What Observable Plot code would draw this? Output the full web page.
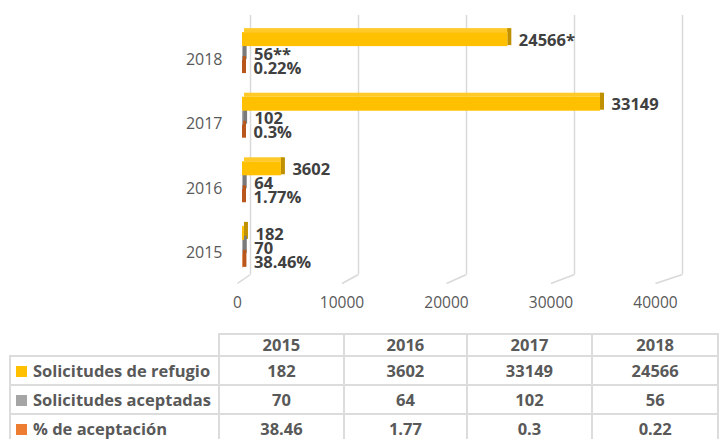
<!DOCTYPE html>
<html><head><meta charset="utf-8">
<script src="https://cdn.jsdelivr.net/npm/d3@7"></script>
<script src="https://cdn.jsdelivr.net/npm/@observablehq/plot@0.6"></script>
<style>
body{margin:0;background:#fff;font-family:'Open Sans',sans-serif;}
#wrap{position:relative;width:719px;height:439px;overflow:hidden;}
#tbl{position:absolute;left:9px;top:333px;border-collapse:collapse;table-layout:fixed;}
#tbl td{border:2px solid #dcdcdc;font-weight:700;color:#595959;font-size:16.5px;line-height:18px;text-align:center;padding:0;white-space:nowrap;overflow:hidden;}
#tbl tr.h td{height:20px;}
#tbl tr.r td{height:27px;}
#tbl td.lab{text-align:left;padding-left:5px;}
#tbl td.empty{border-top:none;border-left:none;}
.sw{display:inline-block;width:11px;height:11px;margin-right:6px;vertical-align:0px;}
</style></head>
<body><div id="wrap"><div id="chart"></div><table id="tbl"></table></div>
<script>
const years = ["2015", "2016", "2017", "2018"];
const series = ["Solicitudes de refugio", "Solicitudes aceptadas", "% de aceptación"];
const refugio = [182, 3602, 33149, 24566];
const aceptadas = [70, 64, 102, 56];
const porcentaje = [38.46, 1.77, 0.3, 0.22];
const refugioNote = ["", "", "", "*"];
const aceptadasNote = ["", "", "", "**"];
const xTicks = [0, 10000, 20000, 30000, 40000];

const frontColors = ["#FFC000", "#A5A5A5", "#ED7D31"];
const topColors = ["#FFCA28", "#B5B5B5", "#F08A45"];
const sideColors = ["#BF9000", "#7A7A7A", "#B9561B"];

const rows = years.flatMap((yr, i) => [
  {i, j: 0, v: refugio[i], label: refugio[i] + refugioNote[i]},
  {i, j: 1, v: aceptadas[i], label: aceptadas[i] + aceptadasNote[i]},
  {i, j: 2, v: porcentaje[i], label: porcentaje[i] + "%"}
]);

const slotW = 0.2165;
const slotMid = d => d.i + (1 - d.j) * slotW;
const slotTop = d => slotMid(d) + slotW / 2;
const slotBot = d => slotMid(d) - slotW / 2;
const yBottom = -0.42;
const floorX = d => d * 0.9676 - 1204;

const chart = Plot.plot({
  width: 719, height: 322,
  marginLeft: 242, marginRight: 45, marginTop: 15, marginBottom: 48,
  x: {domain: [0, 40000], axis: null},
  y: {domain: [yBottom, 3.59], axis: null},
  style: {fontFamily: "'Open Sans', sans-serif", background: "transparent"},
  marks: [
    Plot.ruleX(xTicks, {x: d => d, dx: 8, stroke: "#d9d9d9", strokeWidth: 1.5}),
    Plot.link(xTicks, {x1: d => d, x2: floorX, y1: yBottom, y2: yBottom - 9 / 64.67, dx: 8, stroke: "#d9d9d9", strokeWidth: 1.5}),
    Plot.text(xTicks, {x: floorX, y: yBottom, dx: 8, dy: 29, text: d => String(d), fill: "#595959", fontSize: 15.5}),
    Plot.text(years, {y: (d, i) => i, frameAnchor: "left", textAnchor: "end", dx: -20, dy: 6, text: d => d, fill: "#595959", fontSize: 16}),
    Plot.rectX(rows, {x1: 0, x2: d => d.v, y1: slotTop, y2: slotTop, insetTop: -4, dx: 2, fill: d => topColors[d.j]}),
    Plot.rectX(rows, {x1: d => d.v, x2: d => d.v, insetRight: -4, y1: slotTop, y2: slotBot, insetTop: -4, insetBottom: 1, fill: d => sideColors[d.j]}),
    Plot.rectX(rows, {x1: 0, x2: d => d.v, y1: slotTop, y2: slotBot, fill: d => frontColors[d.j]}),
    Plot.text(rows, {x: d => d.v, y: slotMid, dx: 11, dy: 1, text: d => d.label, textAnchor: "start", fontWeight: "bold", fontSize: 16.5, fill: "#404040"})
  ]
});
document.getElementById("chart").appendChild(chart);

// data table below the chart
const tbl = document.getElementById("tbl");
const colW = [209, 129, 126, 129, 129];
const cg = document.createElement("colgroup");
colW.forEach(cw => { const c = document.createElement("col"); c.style.width = cw + "px"; cg.appendChild(c); });
tbl.appendChild(cg);
const hr = document.createElement("tr"); hr.className = "h";
const e = document.createElement("td"); e.className = "empty"; hr.appendChild(e);
years.forEach(y => { const td = document.createElement("td"); td.textContent = y; hr.appendChild(td); });
tbl.appendChild(hr);
const tableVals = [refugio, aceptadas, porcentaje];
series.forEach((s, k) => {
  const tr = document.createElement("tr"); tr.className = "r";
  const td = document.createElement("td"); td.className = "lab";
  const sw = document.createElement("span"); sw.className = "sw"; sw.style.background = frontColors[k];
  td.appendChild(sw); td.appendChild(document.createTextNode(s)); tr.appendChild(td);
  tableVals[k].forEach(v => { const c = document.createElement("td"); c.textContent = String(v); tr.appendChild(c); });
  tbl.appendChild(tr);
});
</script></body></html>
